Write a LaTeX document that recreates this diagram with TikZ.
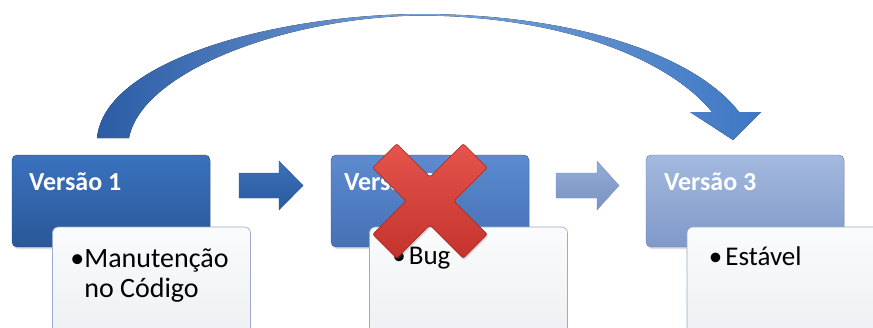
\documentclass[tikz,border=0pt]{standalone}
\usepackage{fontspec}
\setmainfont{Carlito}
\usetikzlibrary{shadows,calc}

\definecolor{vOneTop}{HTML}{3A72BE}
\definecolor{vOneBot}{HTML}{2A5797}
\definecolor{vTwoTop}{HTML}{5C8BD0}
\definecolor{vTwoBot}{HTML}{4571B5}
\definecolor{vThreeTop}{HTML}{A3B9DF}
\definecolor{vThreeBot}{HTML}{8199C8}
\definecolor{noteBorder}{HTML}{9AACCB}
\definecolor{noteTop}{HTML}{FAFBFC}
\definecolor{noteBot}{HTML}{EEF0F3}
\definecolor{arrowOne}{HTML}{3A70BA}
\definecolor{arrowOneDark}{HTML}{2C5A9C}
\definecolor{arrowTwo}{HTML}{93ACD6}
\definecolor{arrowTwoDark}{HTML}{7892C2}
\definecolor{curveDark}{HTML}{2B5CA5}
\definecolor{curveMid}{HTML}{3E78C4}
\definecolor{crossTop}{HTML}{E5554C}
\definecolor{crossBot}{HTML}{C4322C}
\definecolor{crossEdge}{HTML}{A82620}

\tikzset{
  header/.style={rectangle, rounded corners=5pt, minimum width=198pt, minimum height=92pt,
    inner sep=0pt, draw=#1Bot!80!black, line width=0.4pt,
    top color=#1Top, bottom color=#1Bot,
    drop shadow={opacity=0.25, shadow xshift=1pt, shadow yshift=-2pt}},
  headtext/.style={anchor=base west, inner sep=0pt, text=white, font=\bfseries\fontsize{26}{30}\selectfont},
  note/.style={rectangle, rounded corners=6pt, minimum width=198pt, minimum height=108pt,
    inner sep=0pt, draw=noteBorder, line width=0.6pt, top color=noteTop, bottom color=noteBot},
  bullet/.style={anchor=base west, inner sep=0pt, text=black, font=\fontsize{#1}{30}\selectfont},
  blockarrow/.style={draw=#1Dark, line width=0.4pt, top color=#1, bottom color=#1Dark},
}

\begin{document}
\begin{tikzpicture}[x=1pt,y=-1pt]
\useasboundingbox[fill=white] (0,0) rectangle (873,327);

% version headers
\node[header=vOne]   (v1) at (111,201) {};
\node[header=vTwo]   (v2) at (430,201) {};
\node[header=vThree] (v3) at (745,201) {};

\node[headtext] (t1) at ($(v1.north west)+(17,36)$) {Versão 1};
\node[headtext] (t2) at ($(v2.north west)+(13,36)$) {Versão 2};
\node[headtext] (t3) at ($(v3.north west)+(18,36)$) {Versão 3};

% notes under each header
\node[note] (n1) at (151.5,281) {};
\node[note] (n2) at (468.5,281) {};
\node[note] (n3) at (786,281) {};

\node[bullet=28] (b1) at ($(n1.north west)+(18,41)$) {\textbullet\hspace{0pt}Manutenção};
\node[bullet=28] (b1b) at ($(n1.north west)+(32,71)$) {no Código};
\node[bullet=27] (b2) at ($(n2.north west)+(23,38)$) {\textbullet\hspace{3pt}Bug};
\node[bullet=27] (b3) at ($(n3.north west)+(22,39)$) {\textbullet\hspace{3pt}Estável};

% block arrows between the headers
\draw[blockarrow=arrowOne] (239,173) -- (279,173) -- (279,161) -- (303,185.5)
  -- (279,210) -- (279,198) -- (239,198) -- cycle;
\draw[blockarrow=arrowTwo] (556,173) -- (597,173) -- (597,161) -- (619,185.5)
  -- (597,210) -- (597,198) -- (556,198) -- cycle;

% curved arrow from the first to the third version
\fill[left color=curveDark, right color=curveMid, middle color=curveMid!70!white]
  (97,138) .. controls (104,62) and (270,15) .. (420,14)
  .. controls (575,14) and (695,55) .. (739,112)
  -- (761,112) -- (733,140) -- (690,112) -- (712,112)
  .. controls (668,58) and (560,16) .. (420,15.5)
  .. controls (290,17) and (142,70) .. (129,138) -- cycle;

% red cross
\begin{scope}[shift={(430,201)}, rotate=45]
  \draw[rounded corners=2pt, draw=crossEdge, line width=0.6pt,
        top color=crossTop, bottom color=crossBot,
        drop shadow={opacity=0.25, shadow xshift=1pt, shadow yshift=-2pt}]
    (64,17) -- (17,17) -- (17,64) -- (-17,64) -- (-17,17) -- (-64,17)
    -- (-64,-17) -- (-17,-17) -- (-17,-64) -- (17,-64) -- (17,-17) -- (64,-17) -- cycle;
\end{scope}
\end{tikzpicture}
\end{document}
